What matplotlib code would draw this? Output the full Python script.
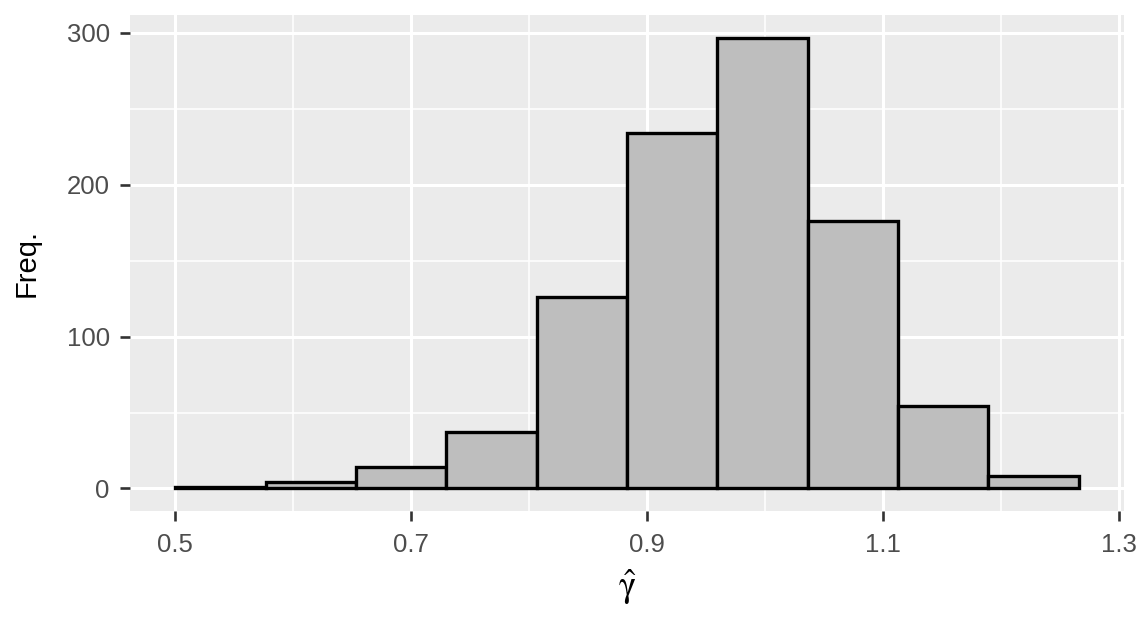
import matplotlib
matplotlib.use("Agg")
import matplotlib.pyplot as plt
import numpy as np

plt.rcParams['font.family'] = ['Liberation Sans', 'DejaVu Sans']
plt.rcParams['mathtext.fontset'] = 'stix'

bin_start = 0.5
bin_width = 0.0766
counts = [1, 4, 14, 37, 126, 234, 297, 176, 54, 8]
x_ticks = [0.5, 0.7, 0.9, 1.1, 1.3]
x_tick_labels = ["0.5", "0.7", "0.9", "1.1", "1.3"]
y_ticks = [0, 100, 200, 300]

edges = bin_start + bin_width * np.arange(len(counts) + 1)

fig = plt.figure(figsize=(11.46, 6.18), dpi=100)
ax = fig.add_axes([130/1146, 1 - 511/618, (1124-130)/1146, (511-15)/618])
ax.set_facecolor('#EBEBEB')

ax.bar(edges[:-1], counts, width=bin_width, align='edge', color='#BEBEBE',
       edgecolor='black', linewidth=2.4, zorder=3)

xr = edges[-1] - edges[0]
ax.set_xlim(edges[0] - 0.05 * xr, edges[-1] + 0.05 * xr)
ymax = max(counts)
ax.set_ylim(-0.05 * ymax, ymax * 1.05)

ax.set_xticks(x_ticks)
ax.set_xticklabels(x_tick_labels)
ax.set_yticks(y_ticks)
ax.set_xticks([0.6, 0.8, 1.0, 1.2], minor=True)
ax.set_yticks([50, 150, 250], minor=True)

ax.grid(which='major', color='white', linewidth=2.2, zorder=0)
ax.grid(which='minor', color='white', linewidth=1.1, zorder=0)
ax.set_axisbelow(True)
for s in ax.spines.values():
    s.set_visible(False)

ax.tick_params(which='major', length=7.5, width=1.9, color='#333333',
               labelsize=18.5, labelcolor='#4D4D4D', pad=8)
ax.tick_params(axis='y', which='major', pad=7)
ax.tick_params(which='minor', length=0)

ax.set_xlabel(r'$\hat{\mathrm{\gamma}}$', fontsize=26, labelpad=8)
ax.set_ylabel('Freq.', fontsize=21, labelpad=19)

fig.savefig('out.png', dpi=100)
